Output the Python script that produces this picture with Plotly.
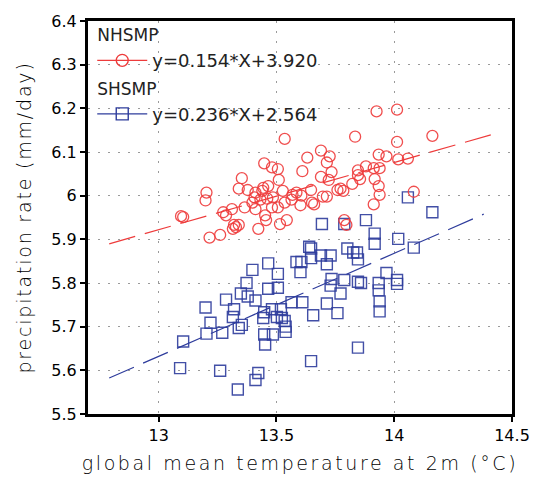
import numpy as np
import plotly.graph_objects as go

# Northern-hemisphere summer monsoon precipitation vs global mean 2m temperature
nh_temp = [14.012, 13.925, 13.535, 13.834, 14.162, 14.012, 13.689, 13.631, 13.726, 13.934,
           13.967, 14.017, 14.058, 13.714, 13.610, 13.734, 13.689, 13.722, 13.846, 13.880,
           13.913, 13.938, 13.846, 13.855, 13.917, 13.934, 13.822, 13.772, 13.784, 13.759,
           13.647, 13.585, 13.606, 13.602, 13.651, 13.660, 13.697, 13.714, 13.938, 13.913,
           14.083, 13.788, 13.797, 13.448, 13.481, 13.506, 13.353, 13.510, 13.340, 13.378,
           13.444, 13.465, 13.440, 13.411, 13.527, 13.568, 13.203, 13.199, 13.407, 13.398,
           13.461, 13.485, 13.564, 13.535, 13.365, 13.311, 13.481, 13.411, 13.274, 13.286,
           13.095, 13.104, 13.452, 13.456, 13.544, 13.515, 13.320, 13.328, 13.315, 13.340,
           13.423, 13.216, 13.261, 13.432, 13.506]
nh_prec = [6.197, 6.193, 6.130, 6.135, 6.137, 6.123, 6.103, 6.087, 6.090, 6.094,
           6.090, 6.083, 6.085, 6.076, 6.056, 6.054, 6.043, 6.036, 6.058, 6.067,
           6.063, 6.063, 6.047, 6.038, 6.038, 6.022, 6.027, 6.016, 6.011, 6.013,
           6.013, 6.007, 6.000, 5.978, 5.984, 5.980, 5.998, 5.998, 6.002, 5.980,
           6.009, 5.944, 5.933, 6.074, 6.065, 6.061, 6.040, 6.036, 6.016, 6.013,
           6.018, 6.022, 6.011, 6.007, 6.011, 6.002, 6.007, 5.989, 5.996, 5.984,
           5.993, 5.996, 5.991, 5.984, 5.973, 5.969, 5.973, 5.969, 5.962, 5.955,
           5.953, 5.951, 5.955, 5.944, 5.944, 5.935, 5.933, 5.928, 5.924, 5.933,
           5.924, 5.904, 5.910, 5.991, 5.973]

# Southern-hemisphere summer monsoon precipitation vs global mean 2m temperature
sh_temp = [14.058, 14.162, 13.693, 13.788, 13.880, 13.917, 13.917, 14.017, 14.083, 13.639,
           13.647, 13.801, 13.826, 13.842, 13.689, 13.730, 13.647, 13.846, 13.585, 13.606,
           13.714, 13.465, 13.398, 13.602, 13.506, 13.967, 13.373, 13.734, 13.788, 13.846,
           13.859, 14.012, 14.012, 13.730, 13.934, 13.506, 13.465, 13.934, 13.349, 13.378,
           13.286, 13.411, 13.772, 13.938, 13.938, 13.714, 13.759, 13.656, 13.610, 13.564,
           13.199, 13.320, 13.448, 13.444, 13.481, 13.519, 13.502, 13.523, 13.535, 13.539,
           13.539, 13.315, 13.353, 13.340, 13.220, 13.203, 13.270, 13.448, 13.485, 13.452,
           13.846, 13.104, 13.091, 13.261, 13.336, 13.411, 13.423, 13.647]
sh_prec = [5.996, 5.962, 5.935, 5.935, 5.944, 5.913, 5.890, 5.901, 5.881, 5.883,
           5.879, 5.879, 5.870, 5.870, 5.863, 5.863, 5.857, 5.854, 5.848, 5.848,
           5.843, 5.845, 5.830, 5.825, 5.821, 5.823, 5.800, 5.809, 5.807, 5.803,
           5.800, 5.807, 5.798, 5.794, 5.800, 5.789, 5.787, 5.783, 5.776, 5.769,
           5.762, 5.760, 5.776, 5.758, 5.735, 5.753, 5.731, 5.726, 5.756, 5.756,
           5.744, 5.740, 5.733, 5.720, 5.740, 5.740, 5.722, 5.720, 5.713, 5.700,
           5.688, 5.722, 5.704, 5.697, 5.709, 5.684, 5.686, 5.682, 5.682, 5.659,
           5.652, 5.666, 5.605, 5.599, 5.556, 5.578, 5.594, 5.621]

# Linear fits (slope, intercept) and the temperature span each fit line covers
nh_fit = (0.154, 3.920)
sh_fit = (0.236, 2.564)
nh_fit_span = [12.79, 14.41]
sh_fit_span = [12.79, 14.38]

series_names = ["NHSMP", "SHSMP"]

RED = "#ee3b3b"
BLUE = "#2e3c9c"


def fit_label(fit):
    return f"y={fit[0]:.3f}*X+{fit[1]:.3f}"


def fit_line(fit, span):
    xs = np.array(span)
    return xs, fit[0] * xs + fit[1]


fig = go.Figure()

# scatter points
fig.add_trace(go.Scatter(
    x=sh_temp, y=sh_prec, mode="markers", showlegend=False,
    marker=dict(symbol="square-open", size=11, color=BLUE, line=dict(width=1.4, color=BLUE), opacity=0.9),
))
fig.add_trace(go.Scatter(
    x=nh_temp, y=nh_prec, mode="markers", showlegend=False,
    marker=dict(symbol="circle-open", size=11, color=RED, line=dict(width=1.3, color=RED), opacity=0.9),
))

# fitted regression lines
for fit, span, col in [(nh_fit, nh_fit_span, RED), (sh_fit, sh_fit_span, BLUE)]:
    lx, ly = fit_line(fit, span)
    fig.add_trace(go.Scatter(
        x=lx, y=ly, mode="lines", showlegend=False, hoverinfo="skip",
        line=dict(color=col, width=1.2, dash="27px,10px"),
    ))

# legend entries: group title = index name, item = fit equation
for name, fit, col, sym in [(series_names[0], nh_fit, RED, "circle-open"),
                            (series_names[1], sh_fit, BLUE, "square-open")]:
    fig.add_trace(go.Scatter(
        x=[None], y=[None], mode="lines+markers",
        name=fit_label(fit), legendgroup=name,
        legendgrouptitle=dict(text=name),
        line=dict(color=col, width=1.2),
        marker=dict(symbol=sym, size=12, color=col, line=dict(width=1.4, color=col)),
    ))

axis_common = dict(
    showline=True, linecolor="black", linewidth=3, mirror=True,
    ticks="outside", ticklen=5, tickwidth=1.5, tickcolor="black",
    showgrid=True, gridcolor="#9a9a9a", gridwidth=1, griddash="2px,8px",
    zeroline=False,
    tickfont=dict(family="DejaVu Sans", size=16, color="black"),
)

fig.update_layout(
    width=542, height=484,
    margin=dict(l=88, r=20, t=20, b=63),
    paper_bgcolor="white", plot_bgcolor="white",
    xaxis=dict(
        range=[12.7, 14.5], tickvals=[13, 13.5, 14, 14.5],
        title=dict(text="global mean temperature at 2m (°C)", standoff=13,
                   font=dict(family="DejaVu Sans", size=19, color="black", weight=300)),
        **axis_common,
    ),
    yaxis=dict(
        range=[5.5, 6.4], tickvals=[5.5, 5.6, 5.7, 5.8, 5.9, 6.0, 6.1, 6.2, 6.3, 6.4],
        ticktext=["5.5", "5.6", "5.7", "5.8", "5.9", "6", "6.1", "6.2", "6.3", "6.4"],
        title=dict(text="precipitation rate (mm/day)", standoff=15,
                   font=dict(family="DejaVu Sans", size=19, color="black", weight=300)),
        **axis_common,
    ),
    legend=dict(
        x=0.01, y=1.01, xanchor="left", yanchor="top",
        bgcolor="rgba(0,0,0,0)", borderwidth=0,
        font=dict(family="DejaVu Sans", size=18, color="#222"),
        grouptitlefont=dict(family="DejaVu Sans", size=17, color="#222"),
        itemwidth=50, tracegroupgap=2,
    ),
)

# widen the letter spacing of the axis titles
post = """
var gd = document.getElementById('{plot_id}');
gd.querySelectorAll('.xtitle').forEach(function(e){ e.style.letterSpacing = '2.6px'; });
gd.querySelectorAll('.ytitle').forEach(function(e){ e.style.letterSpacing = '1.8px'; });
"""

fig.write_html("out.html", post_script=post)
